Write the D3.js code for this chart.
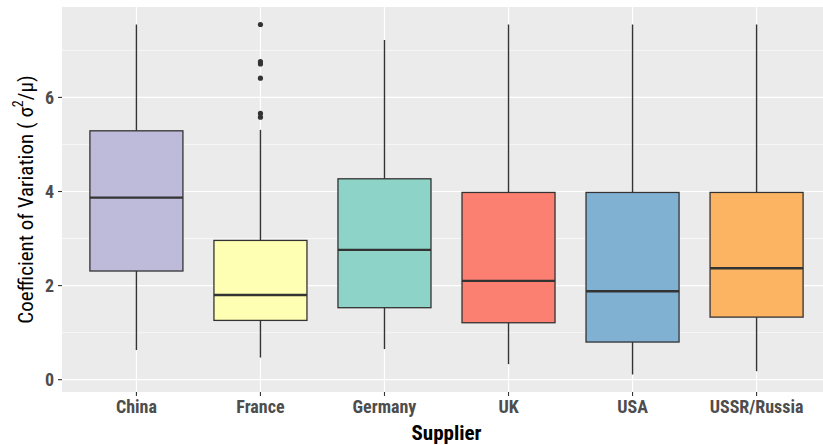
<!DOCTYPE html>
<html>
<head>
<meta charset="utf-8">
<script src="https://cdn.jsdelivr.net/npm/d3@7"></script>
<style>
  html, body { margin: 0; padding: 0; background: #ffffff; }
  svg { display: block; }
  .narrow { font-family: "Liberation Sans Narrow", "Roboto Condensed", "Arial Narrow", Roboto, sans-serif; }
</style>
</head>
<body>
<svg id="chart" width="823" height="445"></svg>
<script>
// Suppliers and their box statistics (coefficient of variation)
const suppliers = ["China", "France", "Germany", "UK", "USA", "USSR/Russia"];
const lowerWhisker = [0.63, 0.47, 0.65, 0.33, 0.11, 0.18];
const q1 = [2.31, 1.26, 1.53, 1.21, 0.80, 1.33];
const median = [3.87, 1.80, 2.76, 2.10, 1.88, 2.37];
const q3 = [5.29, 2.96, 4.27, 3.98, 3.98, 3.98];
const upperWhisker = [7.55, 5.31, 7.22, 7.55, 7.55, 7.55];
const outlierSupplier = ["France", "France", "France", "France", "France", "France"];
const outlierValue = [7.55, 6.76, 6.71, 6.41, 5.66, 5.58];
const fillColors = ["#BEBADA", "#FFFFB3", "#8DD3C7", "#FB8072", "#80B1D3", "#FDB462"];
const yTicks = [0, 2, 4, 6];
const yMinor = [1, 3, 5, 7];

const svg = d3.select("#chart");
const panel = { left: 62, right: 831, top: 7, bottom: 392 };

// Continuous y range with 5% padding on each side of the data extent
const allVals = lowerWhisker.concat(upperWhisker, outlierValue);
const lo = d3.min(allVals), hi = d3.max(allVals);
const pad = (hi - lo) * 0.05;
const y = d3.scaleLinear().domain([lo - pad, hi + pad]).range([panel.bottom, panel.top]);

// Discrete x with 0.6 unit padding at both ends
const n = suppliers.length;
const step = (panel.right - panel.left) / (n - 1 + 1.2);
const x = d3.scalePoint().domain(suppliers)
  .range([panel.left + 0.6 * step, panel.right - 0.6 * step]);
const boxW = step * 0.75;

const clip = svg.append("defs").append("clipPath").attr("id", "panelClip");
clip.append("rect").attr("x", panel.left).attr("y", panel.top)
  .attr("width", panel.right - panel.left).attr("height", panel.bottom - panel.top);

const g = svg.append("g").attr("clip-path", "url(#panelClip)");

// Panel background
g.append("rect").attr("x", panel.left).attr("y", panel.top)
  .attr("width", panel.right - panel.left).attr("height", panel.bottom - panel.top)
  .attr("fill", "#EBEBEB");

// Grid lines
g.selectAll("line.minor").data(yMinor).join("line")
  .attr("x1", panel.left).attr("x2", panel.right)
  .attr("y1", d => y(d)).attr("y2", d => y(d))
  .attr("stroke", "#ffffff").attr("stroke-width", 0.6);
g.selectAll("line.majorY").data(yTicks).join("line")
  .attr("x1", panel.left).attr("x2", panel.right)
  .attr("y1", d => y(d)).attr("y2", d => y(d))
  .attr("stroke", "#ffffff").attr("stroke-width", 1.2);
g.selectAll("line.majorX").data(suppliers).join("line")
  .attr("x1", d => x(d)).attr("x2", d => x(d))
  .attr("y1", panel.top).attr("y2", panel.bottom)
  .attr("stroke", "#ffffff").attr("stroke-width", 1.2);

// Boxes
const rows = suppliers.map((s, i) => ({
  s, lw: lowerWhisker[i], q1: q1[i], med: median[i], q3: q3[i], uw: upperWhisker[i], fill: fillColors[i]
}));
const box = g.selectAll("g.box").data(rows).join("g");

box.append("line")
  .attr("x1", d => x(d.s)).attr("x2", d => x(d.s))
  .attr("y1", d => y(d.q3)).attr("y2", d => y(d.uw))
  .attr("stroke", "#333333").attr("stroke-width", 1.4);
box.append("line")
  .attr("x1", d => x(d.s)).attr("x2", d => x(d.s))
  .attr("y1", d => y(d.q1)).attr("y2", d => y(d.lw))
  .attr("stroke", "#333333").attr("stroke-width", 1.4);
box.append("rect")
  .attr("x", d => x(d.s) - boxW / 2).attr("width", boxW)
  .attr("y", d => y(d.q3)).attr("height", d => y(d.q1) - y(d.q3))
  .attr("fill", d => d.fill).attr("stroke", "#333333").attr("stroke-width", 1.3);
box.append("line")
  .attr("x1", d => x(d.s) - boxW / 2).attr("x2", d => x(d.s) + boxW / 2)
  .attr("y1", d => y(d.med)).attr("y2", d => y(d.med))
  .attr("stroke", "#333333").attr("stroke-width", 2.4);

// Outliers
g.selectAll("circle.out").data(outlierValue).join("circle")
  .attr("cx", (d, i) => x(outlierSupplier[i]))
  .attr("cy", d => y(d)).attr("r", 2.6)
  .attr("fill", "#333333");

// Y axis ticks and labels
svg.selectAll("line.ytick").data(yTicks).join("line")
  .attr("x1", panel.left - 4).attr("x2", panel.left)
  .attr("y1", d => y(d)).attr("y2", d => y(d))
  .attr("stroke", "#333333").attr("stroke-width", 1.1);
svg.selectAll("text.ylab").data(yTicks).join("text")
  .attr("class", "narrow")
  .attr("x", panel.left - 8).attr("y", d => y(d))
  .attr("dy", "0.36em").attr("text-anchor", "end")
  .attr("font-size", 18).attr("font-weight", "bold").attr("fill", "#4D4D4D")
  .text(d => d);

// X axis ticks and labels
svg.selectAll("line.xtick").data(suppliers).join("line")
  .attr("x1", d => x(d)).attr("x2", d => x(d))
  .attr("y1", panel.bottom).attr("y2", panel.bottom + 4)
  .attr("stroke", "#333333").attr("stroke-width", 1.1);
svg.selectAll("text.xlab").data(suppliers).join("text")
  .attr("class", "narrow")
  .attr("x", d => x(d)).attr("y", 413)
  .attr("text-anchor", "middle")
  .attr("font-size", 18).attr("font-weight", "bold").attr("fill", "#4D4D4D")
  .text(d => d);

// Axis titles
svg.append("text").attr("class", "narrow")
  .attr("x", (panel.left + panel.right) / 2).attr("y", 440)
  .attr("text-anchor", "middle")
  .attr("font-size", 21).attr("font-weight", "bold").attr("fill", "#000000")
  .text("Supplier");

const yt = svg.append("text").attr("class", "narrow")
  .attr("transform", "translate(33," + ((panel.top + panel.bottom) / 2) + ") rotate(-90)")
  .attr("text-anchor", "middle")
  .attr("font-size", 21).attr("fill", "#000000");
yt.append("tspan").text("Coefficient of Variation ( \u03C3");
yt.append("tspan").attr("dy", -10).attr("font-size", 14).text("2");
yt.append("tspan").attr("dy", 10).text("/\u03BC)");
</script>
</body>
</html>
